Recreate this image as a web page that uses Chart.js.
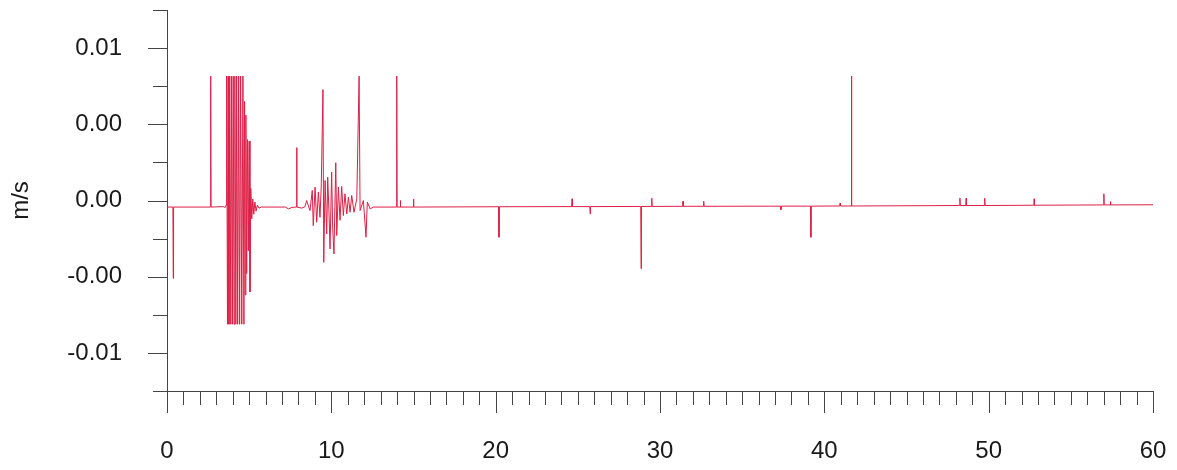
<!DOCTYPE html>
<html>
<head>
<meta charset="utf-8">
<script src="https://cdn.jsdelivr.net/npm/chart.js@4.4.0/dist/chart.umd.min.js"></script>
<style>
html, body { margin: 0; padding: 0; background: #fff; }
#wrap { width: 1177px; height: 470px; }
</style>
</head>
<body>
<div id="wrap"><canvas id="velocity-chart"></canvas></div>
<script>
// time axis (s) and velocity (m/s)
var timeSec = [
  0.00, 0.36, 0.38, 0.40, 2.64, 2.66, 2.68, 3.40, 3.55, 3.60,
  3.63, 3.68, 3.72, 3.77, 3.82, 3.88, 3.93, 3.98, 4.03, 4.08,
  4.13, 4.19, 4.24, 4.30, 4.36, 4.42, 4.48, 4.55, 4.62, 4.68,
  4.72, 4.76, 4.80, 4.85, 4.90, 4.95, 5.00, 5.05, 5.10, 5.16,
  5.22, 5.28, 5.35, 5.42, 5.50, 5.60, 5.75, 7.20, 7.40, 7.60,
  7.87, 7.89, 7.91, 8.20, 8.40, 8.50, 8.70, 8.84, 8.90, 9.01,
  9.11, 9.21, 9.31, 9.39, 9.49, 9.54, 9.62, 9.72, 9.78, 9.86,
  9.92, 10.02, 10.08, 10.16, 10.27, 10.33, 10.43, 10.53, 10.63, 10.73,
  10.83, 10.94, 11.04, 11.14, 11.24, 11.38, 11.55, 11.69, 11.75, 11.95,
  12.11, 12.19, 12.36, 12.56, 13.96, 13.98, 14.00, 14.18, 14.20, 14.22,
  14.98, 15.00, 15.02, 20.18, 20.20, 20.22, 24.63, 24.65, 24.67, 25.73,
  25.75, 25.77, 28.83, 28.85, 28.87, 29.48, 29.50, 29.52, 31.38, 31.40,
  31.42, 32.64, 32.66, 32.68, 37.34, 37.36, 37.38, 39.16, 39.18, 39.20,
  40.94, 40.96, 40.98, 41.63, 41.65, 41.67, 48.23, 48.25, 48.27, 48.61,
  48.63, 48.65, 49.74, 49.76, 49.78, 52.75, 52.77, 52.79, 56.99, 57.01,
  57.03, 57.39, 57.41, 57.43, 60.00
];
var velocity = [
  -0.00043, -0.00043, -0.00511, -0.00043, -0.00043, 0.00816, -0.00043, -0.00040, -0.00045, -0.00030,
  0.00816, -0.00812, 0.00816, -0.00812, 0.00816, -0.00812, 0.00816, -0.00812, 0.00816, -0.00812,
  0.00816, -0.00812, 0.00816, -0.00812, 0.00816, -0.00812, 0.00816, -0.00812, 0.00816, -0.00812,
  0.00650, -0.00620, 0.00560, -0.00480, 0.00400, -0.00330, 0.00390, -0.00600, 0.00080, -0.00120,
  0.00010, -0.00090, -0.00010, -0.00070, -0.00030, -0.00050, -0.00043, -0.00043, -0.00055, -0.00045,
  -0.00043, 0.00347, -0.00043, -0.00050, -0.00040, 0.00000, -0.00066, 0.00066, -0.00165, 0.00088,
  -0.00143, 0.00055, -0.00110, 0.00110, 0.00728, -0.00406, 0.00132, -0.00219, 0.00153, -0.00088,
  -0.00318, 0.00186, -0.00175, -0.00351, 0.00248, -0.00230, 0.00088, -0.00130, 0.00092, -0.00099,
  0.00044, -0.00088, 0.00022, -0.00077, 0.00033, -0.00077, 0.00011, 0.00816, -0.00066, 0.00000,
  -0.00241, -0.00010, -0.00055, -0.00043, -0.00043, 0.00816, -0.00043, -0.00043, 0.00000, -0.00043,
  -0.00043, 0.00010, -0.00043, -0.00041, -0.00241, -0.00041, -0.00040, 0.00011, -0.00040, -0.00040,
  -0.00088, -0.00040, -0.00039, -0.00447, -0.00039, -0.00039, 0.00015, -0.00039, -0.00038, -0.00005,
  -0.00038, -0.00038, -0.00005, -0.00038, -0.00037, -0.00060, -0.00037, -0.00037, -0.00241, -0.00037,
  -0.00036, -0.00018, -0.00036, -0.00036, 0.00816, -0.00036, -0.00033, 0.00015, -0.00033, -0.00033,
  0.00015, -0.00033, -0.00033, 0.00015, -0.00033, -0.00031, 0.00011, -0.00031, -0.00029, 0.00044,
  -0.00029, -0.00029, -0.00007, -0.00029, -0.00028
];

var xTickValues = [0, 10, 20, 30, 40, 50, 60];
var xTickLabels = ["0", "10", "20", "30", "40", "50", "60"];
var yTickValues = [-0.01, -0.005, 0, 0.005, 0.01];
var yTickLabels = ["-0.01", "-0.00", "0.00", "0.00", "0.01"];

var axisColor = '#444';
var textColor = '#1a1a1a';
var labelFont = { family: "'Liberation Sans', Arial, sans-serif", size: 24 };

// major/minor tick marks drawn from the scales
var tickMarks = {
  id: 'tickMarks',
  afterDraw: function (chart) {
    var ctx = chart.ctx;
    var xs = chart.scales.x, ys = chart.scales.y;
    var left = chart.chartArea.left, bottom = chart.chartArea.bottom;
    ctx.save();
    ctx.strokeStyle = axisColor;
    ctx.lineWidth = 1;
    ctx.beginPath();
    for (var i = 0; i <= 60; i++) {
      var px = Math.round(xs.getPixelForValue(i)) + 0.5;
      ctx.moveTo(px, bottom);
      ctx.lineTo(px, bottom + (i % 10 === 0 ? 22 : 14));
    }
    for (var j = -5; j <= 5; j++) {
      var py = Math.round(ys.getPixelForValue(j * 0.0025)) + 0.5;
      ctx.moveTo(left - (j % 2 === 0 ? 19 : 14), py);
      ctx.lineTo(left, py);
    }
    ctx.stroke();
    ctx.restore();
  }
};

var points = timeSec.map(function (t, i) { return { x: t, y: velocity[i] }; });

new Chart(document.getElementById('velocity-chart'), {
  type: 'line',
  data: {
    datasets: [{
      label: 'velocity',
      data: points,
      borderColor: '#dc1f45',
      borderWidth: 1,
      pointRadius: 0,
      tension: 0,
      fill: false
    }]
  },
  options: {
    responsive: true,
    maintainAspectRatio: false,
    animation: false,
    layout: { padding: { top: 10, right: 24, left: 0, bottom: 0 } },
    plugins: { legend: { display: false }, tooltip: { enabled: false } },
    scales: {
      x: {
        type: 'linear',
        min: 0,
        max: 60,
        afterBuildTicks: function (s) { s.ticks = xTickValues.map(function (v) { return { value: v }; }); },
        afterFit: function (s) { s.height = 79; s.paddingLeft = 0; s.paddingRight = 0; },
        grid: { display: false, drawTicks: false },
        border: { display: true, color: axisColor, width: 1 },
        ticks: {
          autoSkip: false,
          maxRotation: 0,
          padding: 46,
          color: textColor,
          font: labelFont,
          callback: function (v) { return xTickLabels[xTickValues.indexOf(v)]; }
        }
      },
      y: {
        min: -0.0125,
        max: 0.0125,
        afterBuildTicks: function (s) { s.ticks = yTickValues.map(function (v) { return { value: v }; }); },
        afterFit: function (s) { s.width = 167; s.paddingTop = 0; s.paddingBottom = 0; },
        grid: { display: false, drawTicks: false },
        border: { display: true, color: axisColor, width: 1 },
        title: { display: true, text: 'm/s', color: textColor, font: labelFont, padding: { top: 7, bottom: 0 } },
        ticks: {
          padding: 45,
          color: textColor,
          font: labelFont,
          callback: function (v) { return yTickLabels[yTickValues.indexOf(v)]; }
        }
      }
    }
  },
  plugins: [tickMarks]
});
</script>
</body>
</html>
